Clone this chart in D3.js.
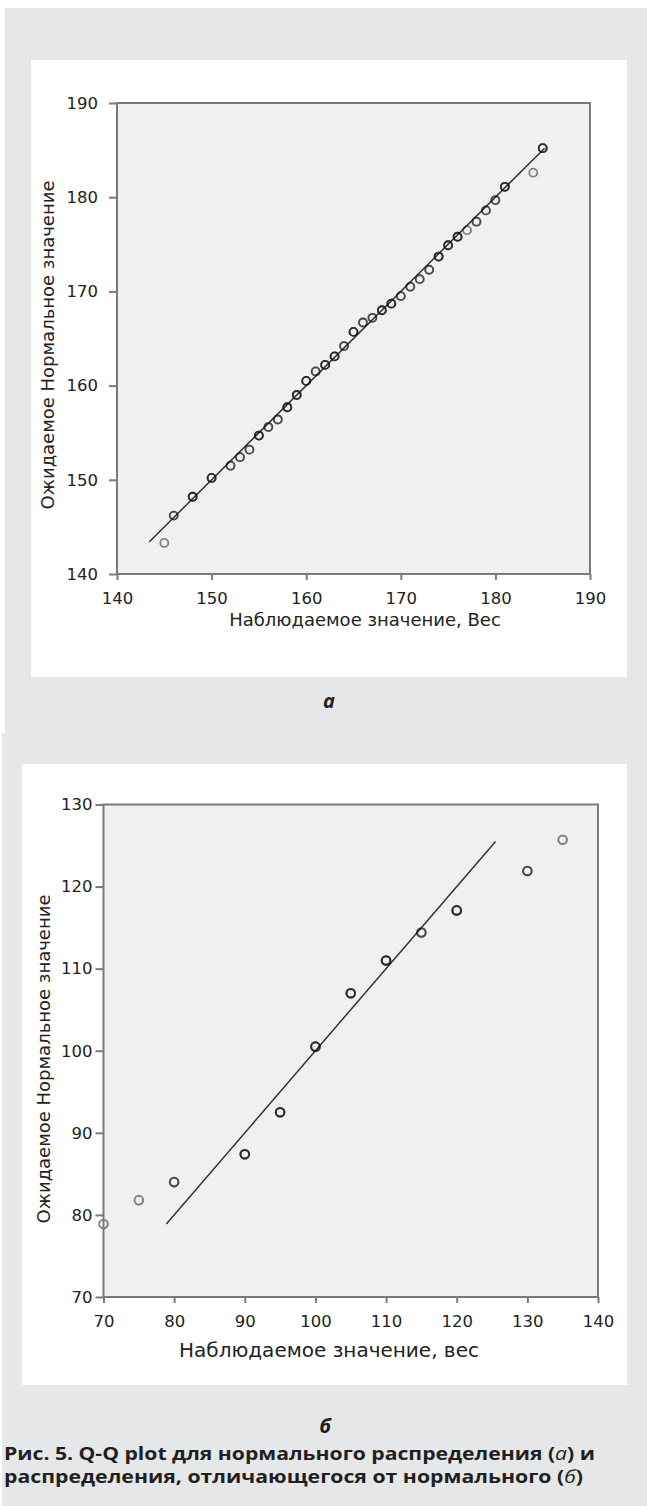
<!DOCTYPE html>
<html>
<head>
<meta charset="utf-8">
<script src="https://cdn.jsdelivr.net/npm/d3@7"></script>
<style>
  body { margin: 0; background: #fff; }
  svg { display: block; }
</style>
</head>
<body>
<div id="chart"></div>
<script>
// panel а: normal distribution (observed vs expected normal value)
var obsA = [145, 146, 148, 150, 152, 153, 154, 155, 156, 157, 158, 159, 160, 161, 162, 163, 164, 165,
            166, 167, 168, 169, 170, 171, 172, 173, 174, 175, 176, 177, 178, 179, 180, 181, 184, 185];
var expA = [143.3, 146.2, 148.2, 150.2, 151.5, 152.4, 153.2, 154.7, 155.6, 156.4, 157.7, 159.0, 160.5, 161.5, 162.2, 163.1, 164.2, 165.7,
            166.7, 167.2, 168.0, 168.7, 169.5, 170.5, 171.3, 172.3, 173.7, 174.9, 175.8, 176.5, 177.4, 178.6, 179.7, 181.1, 182.6, 185.2];
// how many cases sit on each point (darker ring = more cases)
var cntA = [1, 2, 3, 3, 2, 2, 2, 3, 2, 2, 3, 3, 3, 2, 3, 3, 2, 3,
            2, 2, 3, 3, 2, 2, 2, 2, 3, 3, 3, 1, 2, 2, 2, 3, 1, 3];
var lineA = [143.4, 185.2];
var ticksA = [140, 150, 160, 170, 180, 190];

// panel б: non-normal distribution
var obsB = [70, 75, 80, 90, 95, 100, 105, 110, 115, 120, 130, 135];
var expB = [78.9, 81.8, 84.0, 87.4, 92.5, 100.5, 107.0, 111.0, 114.4, 117.1, 121.9, 125.7];
var cntB = [1, 1, 2, 3, 3, 3, 3, 3, 2, 3, 2, 1];
var lineB = [78.9, 125.5];
var xTicksB = [70, 80, 90, 100, 110, 120, 130, 140];
var yTicksB = [70, 80, 90, 100, 110, 120, 130];

var W = 647, H = 1506;
var svg = d3.select("#chart").append("svg")
    .attr("width", W)
    .attr("height", H);

// page background blocks
svg.append("rect").attr("x", 5).attr("y", 8).attr("width", W - 5).attr("height", 725).attr("fill", "#e6e7e9");
svg.append("rect").attr("x", 2).attr("y", 733).attr("width", W - 2).attr("height", H - 733).attr("fill", "#e6e7e9");
svg.append("rect").attr("x", 31).attr("y", 60).attr("width", 596).attr("height", 617).attr("fill", "#fff");
svg.append("rect").attr("x", 22).attr("y", 764).attr("width", 605).attr("height", 621).attr("fill", "#fff");

var tickFont = "DejaVu Sans, Verdana, sans-serif";

function qqPlot(o) {
    var x = d3.scaleLinear().domain(o.xDomain).range([o.left, o.right]);
    var y = d3.scaleLinear().domain(o.yDomain).range([o.bottom, o.top]);

    svg.append("rect")
        .attr("x", o.left).attr("y", o.top)
        .attr("width", o.right - o.left).attr("height", o.bottom - o.top)
        .attr("fill", "#f0f0f0");

    // reference line y = x
    svg.append("line")
        .attr("x1", x(o.line[0])).attr("y1", y(o.line[0]))
        .attr("x2", x(o.line[1])).attr("y2", y(o.line[1]))
        .attr("stroke", "#333")
        .attr("stroke-width", 1.5);

    var pts = [];
    o.obs.forEach(function(v, i) {
        for (var k = 0; k < o.cnt[i]; k++) pts.push({ x: v, y: o.exp[i] });
    });
    svg.append("g").selectAll("circle")
        .data(pts)
        .enter().append("circle")
        .attr("cx", function(d) { return x(d.x); })
        .attr("cy", function(d) { return y(d.y); })
        .attr("r", o.r)
        .attr("fill", "none")
        .attr("stroke", "#111")
        .attr("stroke-opacity", 0.5)
        .attr("stroke-width", o.sw);

    var xAxis = d3.axisBottom(x).tickValues(o.xTicks).tickSize(6).tickPadding(12)
        .tickFormat(d3.format("d"));
    var gx = svg.append("g")
        .attr("transform", "translate(0," + o.bottom + ")")
        .call(xAxis);
    var yAxis = d3.axisLeft(y).tickValues(o.yTicks).tickSize(8).tickPadding(o.yPad)
        .tickFormat(d3.format("d"));
    var gy = svg.append("g")
        .attr("transform", "translate(" + o.left + ",0)")
        .call(yAxis);

    [gx, gy].forEach(function(g) {
        g.select(".domain").remove();
        g.attr("font-family", tickFont).attr("font-size", 16.5);
        g.selectAll(".tick line").attr("stroke", "#7a7a7a").attr("stroke-width", 2);
        g.selectAll(".tick text").attr("fill", "#222");
    });

    // frame
    svg.append("rect")
        .attr("x", o.left).attr("y", o.top)
        .attr("width", o.right - o.left).attr("height", o.bottom - o.top)
        .attr("fill", "none")
        .attr("stroke", "#7a7a7a")
        .attr("stroke-width", 2);

    svg.append("text")
        .attr("x", o.xTitlePos[0]).attr("y", o.xTitlePos[1])
        .attr("text-anchor", "middle")
        .attr("font-family", tickFont)
        .attr("font-size", o.xTitleSize)
        .attr("fill", "#222")
        .text(o.xTitle);

    svg.append("text")
        .attr("transform", "translate(" + o.yTitlePos[0] + "," + o.yTitlePos[1] + ") rotate(-90)")
        .attr("text-anchor", "middle")
        .attr("font-family", tickFont)
        .attr("font-size", 18)
        .attr("fill", "#222")
        .text("Ожидаемое Нормальное значение");

    svg.append("text")
        .attr("x", o.tagPos[0]).attr("y", o.tagPos[1])
        .attr("text-anchor", "middle")
        .attr("font-family", "Open Sans, sans-serif")
        .attr("font-weight", "bold")
        .attr("font-style", "italic")
        .attr("font-size", 20)
        .attr("fill", "#231f20")
        .text(o.tag);
}

qqPlot({
    obs: obsA, exp: expA, cnt: cntA, line: lineA,
    xDomain: [140, 190], yDomain: [140, 190], xTicks: ticksA, yTicks: ticksA,
    left: 117, right: 590, top: 103, bottom: 574,
    r: 4, sw: 1.8, yPad: 11,
    xTitle: "Наблюдаемое значение, Вес", xTitleSize: 18, xTitlePos: [365, 626],
    yTitlePos: [54, 345],
    tag: "а", tagPos: [329, 708]
});

qqPlot({
    obs: obsB, exp: expB, cnt: cntB, line: lineB,
    xDomain: [70, 140], yDomain: [70, 130], xTicks: xTicksB, yTicks: yTicksB,
    left: 103.5, right: 598, top: 804.5, bottom: 1297,
    r: 4.3, sw: 2, yPad: 3,
    xTitle: "Наблюдаемое значение, вес", xTitleSize: 20, xTitlePos: [329, 1357],
    yTitlePos: [50, 1059],
    tag: "б", tagPos: [325, 1433]
});

// caption (printed face is wider than Open Sans, so glyphs are stretched to the line width)
var cap = svg.append("g")
    .attr("font-family", "Open Sans, sans-serif")
    .attr("font-weight", "bold")
    .attr("font-size", 18.5)
    .attr("fill", "#231f20");

var line1 = cap.append("text").attr("x", 4).attr("y", 1460)
    .attr("textLength", 591).attr("lengthAdjust", "spacingAndGlyphs");
line1.append("tspan").text("Рис. 5. Q-Q plot для нормального распределения (");
line1.append("tspan").attr("font-weight", "normal").attr("font-style", "italic").text("а");
line1.append("tspan").text(") и");

var line2 = cap.append("text").attr("x", 4).attr("y", 1483)
    .attr("textLength", 579).attr("lengthAdjust", "spacingAndGlyphs");
line2.append("tspan").text("распределения, отличающегося от нормального (");
line2.append("tspan").attr("font-weight", "normal").attr("font-style", "italic").text("б");
line2.append("tspan").text(")");
</script>
</body>
</html>
